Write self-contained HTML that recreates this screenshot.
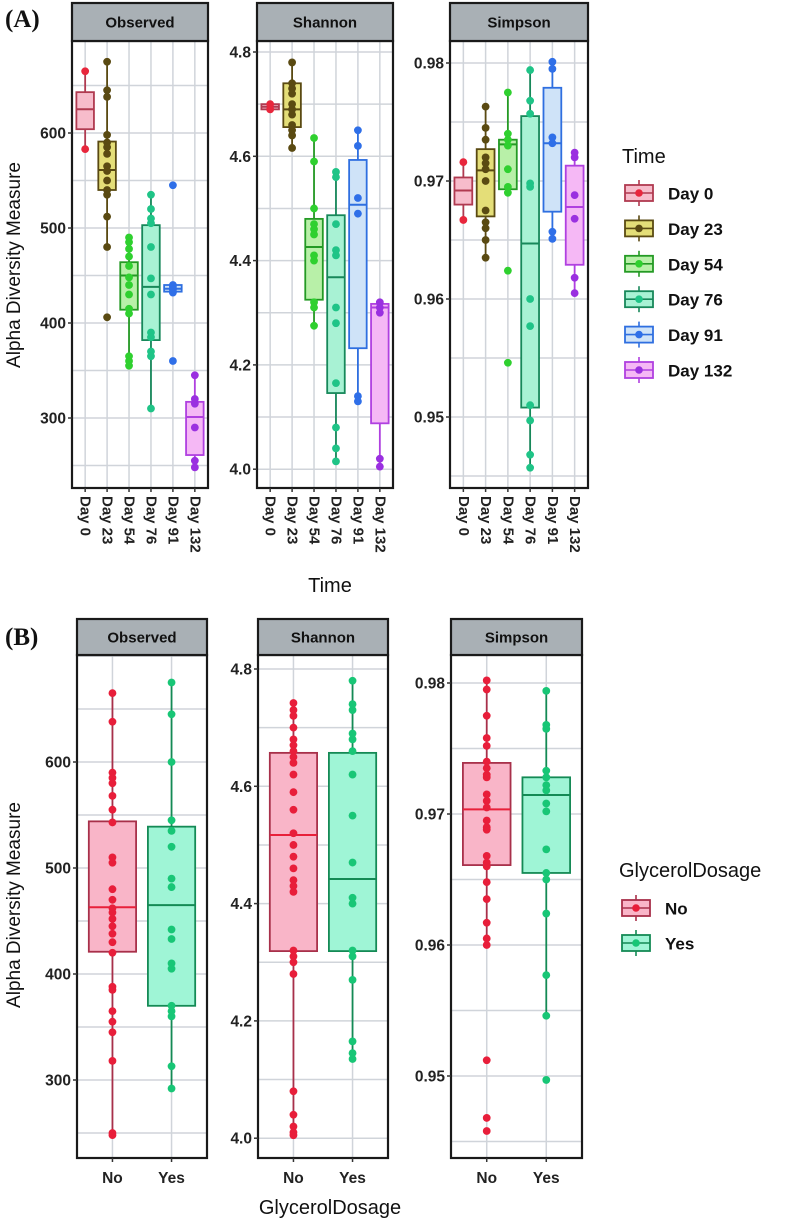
<!DOCTYPE html>
<html><head><meta charset="utf-8"><style>
html,body{margin:0;padding:0;background:#fff;}
svg{display:block;font-family:"Liberation Sans",Arial,sans-serif;}
</style></head><body>
<svg id="chart" width="790" height="1221" viewBox="0 0 790 1221" xmlns="http://www.w3.org/2000/svg"></svg>
<script>
// ---------- Data: panel A (Time) ----------
const timeCategories = ["Day 0","Day 23","Day 54","Day 76","Day 91","Day 132"];
// box stats: [min, q1, median, q3, max]
const obsBoxA = [[583,604,625,643,665],[480,540,561,591,675],[355,414,450,464,490],[310,382,438,503,535],[432,433,436,440,440],[248,261,301,317,345]];
const obsPtsA = [[665,583],[675,645,638,598,590,585,578,565,560,550,540,535,512,480,406],[490,485,478,470,460,448,440,430,415,410,365,360,355],[535,520,510,505,480,447,430,390,385,370,365,310],[545,440,438,435,432,360],[345,320,315,290,255,248]];
const shaBoxA = [[4.69,4.69,4.695,4.70,4.70],[4.616,4.656,4.69,4.74,4.78],[4.275,4.325,4.426,4.48,4.635],[4.015,4.146,4.368,4.487,4.57],[4.13,4.232,4.507,4.593,4.65],[4.005,4.088,4.31,4.317,4.32]];
const shaPtsA = [[4.70,4.69],[4.78,4.74,4.73,4.72,4.70,4.69,4.68,4.66,4.65,4.64,4.616],[4.635,4.59,4.50,4.47,4.46,4.45,4.41,4.40,4.32,4.31,4.275],[4.57,4.56,4.47,4.42,4.41,4.31,4.28,4.165,4.08,4.04,4.015],[4.65,4.62,4.52,4.49,4.14,4.13],[4.32,4.31,4.30,4.02,4.005]];
const simBoxA = [[0.9667,0.968,0.9692,0.9703,0.9716],[0.9634,0.967,0.9709,0.9727,0.9763],[0.9688,0.9693,0.9731,0.9735,0.9775],[0.9457,0.9508,0.9647,0.9755,0.9794],[0.965,0.9674,0.9732,0.9779,0.9801],[0.9604,0.9629,0.9678,0.9713,0.9725]];
const simPtsA = [[0.9716,0.9667],[0.9763,0.9745,0.9735,0.972,0.9715,0.971,0.970,0.9675,0.9665,0.966,0.965,0.9635],[0.9775,0.9740,0.9735,0.9730,0.9710,0.9695,0.9690,0.9624,0.9546],[0.9794,0.9768,0.9757,0.9698,0.9695,0.9600,0.9577,0.9510,0.9497,0.9468,0.9457],[0.9801,0.9795,0.9737,0.9732,0.9657,0.9651],[0.9724,0.9720,0.9688,0.9668,0.9618,0.9605]];
const obsTicksA = [300,400,500,600];
const shaTicks = [4.0,4.2,4.4,4.6,4.8];
const simTicks = [0.95,0.96,0.97,0.98];
// ---------- Data: panel B (GlycerolDosage) ----------
const doseCategories = ["No","Yes"];
const obsBoxB = [[248,421,463,544,665],[292,370,465,539,675]];
const obsPtsB = [[665,638,590,585,580,568,555,543,510,505,480,470,462,458,452,445,438,430,420,388,385,365,355,345,318,250,248],[675,645,600,545,535,520,490,482,442,433,410,405,370,365,360,313,292]];
const shaBoxB = [[4.005,4.319,4.517,4.657,4.742],[4.135,4.319,4.442,4.657,4.78]];
const shaPtsB = [[4.742,4.73,4.72,4.70,4.68,4.67,4.66,4.65,4.64,4.62,4.59,4.56,4.52,4.50,4.48,4.46,4.44,4.43,4.42,4.32,4.31,4.30,4.28,4.08,4.04,4.02,4.01,4.005],[4.78,4.74,4.73,4.69,4.68,4.66,4.62,4.55,4.47,4.41,4.40,4.32,4.31,4.27,4.165,4.145,4.135]];
const simBoxB = [[0.960,0.9661,0.97035,0.9739,0.9802],[0.9546,0.9655,0.97145,0.9728,0.9794]];
const simPtsB = [[0.9802,0.9795,0.9775,0.9758,0.9752,0.974,0.9735,0.973,0.9728,0.9715,0.971,0.9705,0.9695,0.969,0.9688,0.9668,0.9663,0.966,0.9648,0.9635,0.9617,0.9605,0.960,0.9512,0.9468,0.9458],[0.9794,0.9768,0.9765,0.9733,0.9728,0.9722,0.9718,0.9708,0.9702,0.9673,0.9655,0.965,0.9624,0.9577,0.9546,0.9497]];
const obsTicksB = [300,400,500,600];

// ---------- styles ----------
const timeStyle = [
 {line:"#b03a50",fill:"#f7bccb",pt:"#e8263c"},
 {line:"#5a4a12",fill:"#e4de78",pt:"#5a4a12"},
 {line:"#249a24",fill:"#b8f0a8",pt:"#2fd02f"},
 {line:"#17885a",fill:"#a8f2d4",pt:"#1fc487"},
 {line:"#2f6fe0",fill:"#cfe3f8",pt:"#2f6fe8"},
 {line:"#b040e0",fill:"#f5b8f5",pt:"#9a30e0"}];
const doseStyle = [
 {line:"#a8304a",fill:"#f9b5c8",pt:"#e81e3a",med:"#e8203a"},
 {line:"#148a55",fill:"#9ff5d6",pt:"#18c676",med:"#148a55"}];

const NS="http://www.w3.org/2000/svg";
const svg=document.getElementById('chart');
function mk(tag,attrs,parent){const e=document.createElementNS(NS,tag);for(const k in attrs)e.setAttribute(k,attrs[k]);(parent||svg).appendChild(e);return e;}

function panel(cfg){
  const g=mk('g',{});
  
  
  const n=cfg.cats.length, unit=(cfg.x1-cfg.x0)/(n-1+1.2);
  const xs=i=>cfg.x0+(0.6+i)*unit;
  const ys=v=>cfg.yRef+(cfg.vRef-v)*cfg.ppu;
  mk('rect',{x:cfg.x0,y:cfg.top,width:cfg.x1-cfg.x0,height:cfg.bottom-cfg.top,fill:'#fff'},g);
  const step=cfg.ticks[1]-cfg.ticks[0];
  for(let t=cfg.ticks[0]-step;t<=cfg.ticks[cfg.ticks.length-1]+step;t+=step/2){
    const y=ys(t); if(y<cfg.top+1||y>cfg.bottom-1)continue;
    const gl=mk('line',{x1:cfg.x0,x2:cfg.x1,y1:y,y2:y,stroke:'#d0d4da','stroke-width':1.5},g);
     
  }
  cfg.cats.forEach((c,i)=>{mk('line',{x1:xs(i),x2:xs(i),y1:cfg.top,y2:cfg.bottom,stroke:'#d0d4da','stroke-width':1.5},g);});
  const bw=unit*0.8;
  cfg.boxes.forEach((b,i)=>{
    const s=cfg.styles[i], x=xs(i);
    const bg=mk('g',{},g);
    
    
    mk('line',{x1:x,x2:x,y1:ys(b[4]),y2:ys(b[0]),stroke:s.line,'stroke-width':1.8},bg);
    mk('rect',{x:x-bw/2,y:ys(b[3]),width:bw,height:Math.max(1,ys(b[1])-ys(b[3])),fill:s.fill,stroke:s.line,'stroke-width':1.8},bg);
    mk('line',{x1:x-bw/2,x2:x+bw/2,y1:ys(b[2]),y2:ys(b[2]),stroke:s.med||s.line,'stroke-width':2},bg);
    cfg.pts[i].forEach(v=>{
      const p=mk('circle',{cx:x,cy:ys(v),r:3.9,fill:s.pt},bg);
       
    });
  });
  mk('rect',{x:cfg.x0,y:cfg.top,width:cfg.x1-cfg.x0,height:cfg.bottom-cfg.top,fill:'none',stroke:'#1a1a1a','stroke-width':2.2},g);
  const st=mk('g',{},g);
  
  
  mk('rect',{x:cfg.x0,y:cfg.stripTop,width:cfg.x1-cfg.x0,height:cfg.top-cfg.stripTop,fill:'#a9b0b5',stroke:'#1a1a1a','stroke-width':2.2},st);
  const tt=mk('text',{x:(cfg.x0+cfg.x1)/2,y:(cfg.stripTop+cfg.top)/2+5.5,'text-anchor':'middle','font-size':15,'font-weight':'bold',fill:'#111'},st);
  tt.textContent=cfg.title;
  cfg.ticks.forEach(t=>{
    const y=ys(t);
    mk('line',{x1:cfg.x0-4,x2:cfg.x0,y1:y,y2:y,stroke:'#333','stroke-width':1.5},g);
    const tl=mk('text',{x:cfg.x0-6,y:y+5.5,'text-anchor':'end','font-size':15.5,'font-weight':'bold',fill:'#222'},g);
     
    tl.textContent=cfg.fmt(t);
  });
  cfg.cats.forEach((c,i)=>{
    const x=xs(i);
    mk('line',{x1:x,x2:x,y1:cfg.bottom,y2:cfg.bottom+4,stroke:'#333','stroke-width':1.5},g);
    let tl;
    if(cfg.rot){ tl=mk('text',{x:0,y:0,transform:`translate(${x},${cfg.bottom+8}) rotate(90)`,'dominant-baseline':'central','font-size':15,'font-weight':'bold',fill:'#222'},g); }
    else { tl=mk('text',{x:x,y:cfg.bottom+25,'text-anchor':'middle','font-size':15.5,'font-weight':'bold',fill:'#222'},g); }
     
    tl.textContent=c;
  });
}
const f0=v=>String(v), f1=v=>v.toFixed(1), f2=v=>v.toFixed(2);
panel({name:'panel-a-observed',title:'Observed',cats:timeCategories,boxes:obsBoxA,pts:obsPtsA,styles:timeStyle,x0:72,x1:208,stripTop:3,top:41,bottom:488,yRef:133,vRef:600,ppu:0.95,ticks:obsTicksA,fmt:f0,rot:true});
panel({name:'panel-a-shannon',title:'Shannon',cats:timeCategories,boxes:shaBoxA,pts:shaPtsA,styles:timeStyle,x0:257,x1:393,stripTop:3,top:41,bottom:488,yRef:52,vRef:4.8,ppu:521.5,ticks:shaTicks,fmt:f1,rot:true});
panel({name:'panel-a-simpson',title:'Simpson',cats:timeCategories,boxes:simBoxA,pts:simPtsA,styles:timeStyle,x0:450,x1:588,stripTop:3,top:41,bottom:488,yRef:63,vRef:0.98,ppu:11800,ticks:simTicks,fmt:f2,rot:true});
panel({name:'panel-b-observed',title:'Observed',cats:doseCategories,boxes:obsBoxB,pts:obsPtsB,styles:doseStyle,x0:77,x1:207,stripTop:619,top:655,bottom:1158,yRef:762,vRef:600,ppu:1.06,ticks:obsTicksB,fmt:f0,rot:false});
panel({name:'panel-b-shannon',title:'Shannon',cats:doseCategories,boxes:shaBoxB,pts:shaPtsB,styles:doseStyle,x0:258,x1:388,stripTop:619,top:655,bottom:1158,yRef:669,vRef:4.8,ppu:586.5,ticks:shaTicks,fmt:f1,rot:false});
panel({name:'panel-b-simpson',title:'Simpson',cats:doseCategories,boxes:simBoxB,pts:simPtsB,styles:doseStyle,x0:451,x1:582,stripTop:619,top:655,bottom:1158,yRef:683,vRef:0.98,ppu:13100,ticks:simTicks,fmt:f2,rot:false});

function txt(x,y,s,attrs,name){const t=mk('text',Object.assign({x:x,y:y,fill:'#111'},attrs));t.textContent=s;return t;}
txt(5,27,'(A)',{'font-family':'Liberation Serif,serif','font-weight':'bold','font-size':25},'panel-a-label');
txt(5,645,'(B)',{'font-family':'Liberation Serif,serif','font-weight':'bold','font-size':25},'panel-b-label');
txt(0,0,'Alpha Diversity Measure',{transform:'translate(20,265) rotate(-90)','text-anchor':'middle','font-size':19},'y-axis-title-a');
txt(0,0,'Alpha Diversity Measure',{transform:'translate(20,905) rotate(-90)','text-anchor':'middle','font-size':19},'y-axis-title-b');
txt(330,592,'Time',{'text-anchor':'middle','font-size':20},'x-axis-title-a');
txt(330,1214,'GlycerolDosage',{'text-anchor':'middle','font-size':20},'x-axis-title-b');

function legend(x,y0,title,labels,styles,gap,name,titleY){
  const g=mk('g',{});
  
  
  const t=mk('text',{x:x-3,y:titleY,'font-size':20,fill:'#111'},g);t.textContent=title;
  labels.forEach((l,i)=>{
    const s=styles[i],cy=y0+i*gap;
    const e=mk('g',{},g);
    
    
    mk('line',{x1:x+14,x2:x+14,y1:cy-13,y2:cy+13,stroke:s.line,'stroke-width':1.6},e);
    mk('rect',{x:x,y:cy-8,width:28,height:16,fill:s.fill,stroke:s.line,'stroke-width':1.8},e);
    mk('line',{x1:x,x2:x+28,y1:cy,y2:cy,stroke:s.line,'stroke-width':1.6},e);
    mk('circle',{cx:x+14,cy:cy,r:3.8,fill:s.pt},e);
    const lt=mk('text',{x:x+43,y:cy+6.5,'font-size':17,'font-weight':'bold',fill:'#111'},e);lt.textContent=l;
  });
}
legend(625,193,'Time',timeCategories,timeStyle,35.4,'legend-time',163);
legend(622,908,'GlycerolDosage',doseCategories,doseStyle,35,'legend-glycerol',877);
</script>
</body></html>
